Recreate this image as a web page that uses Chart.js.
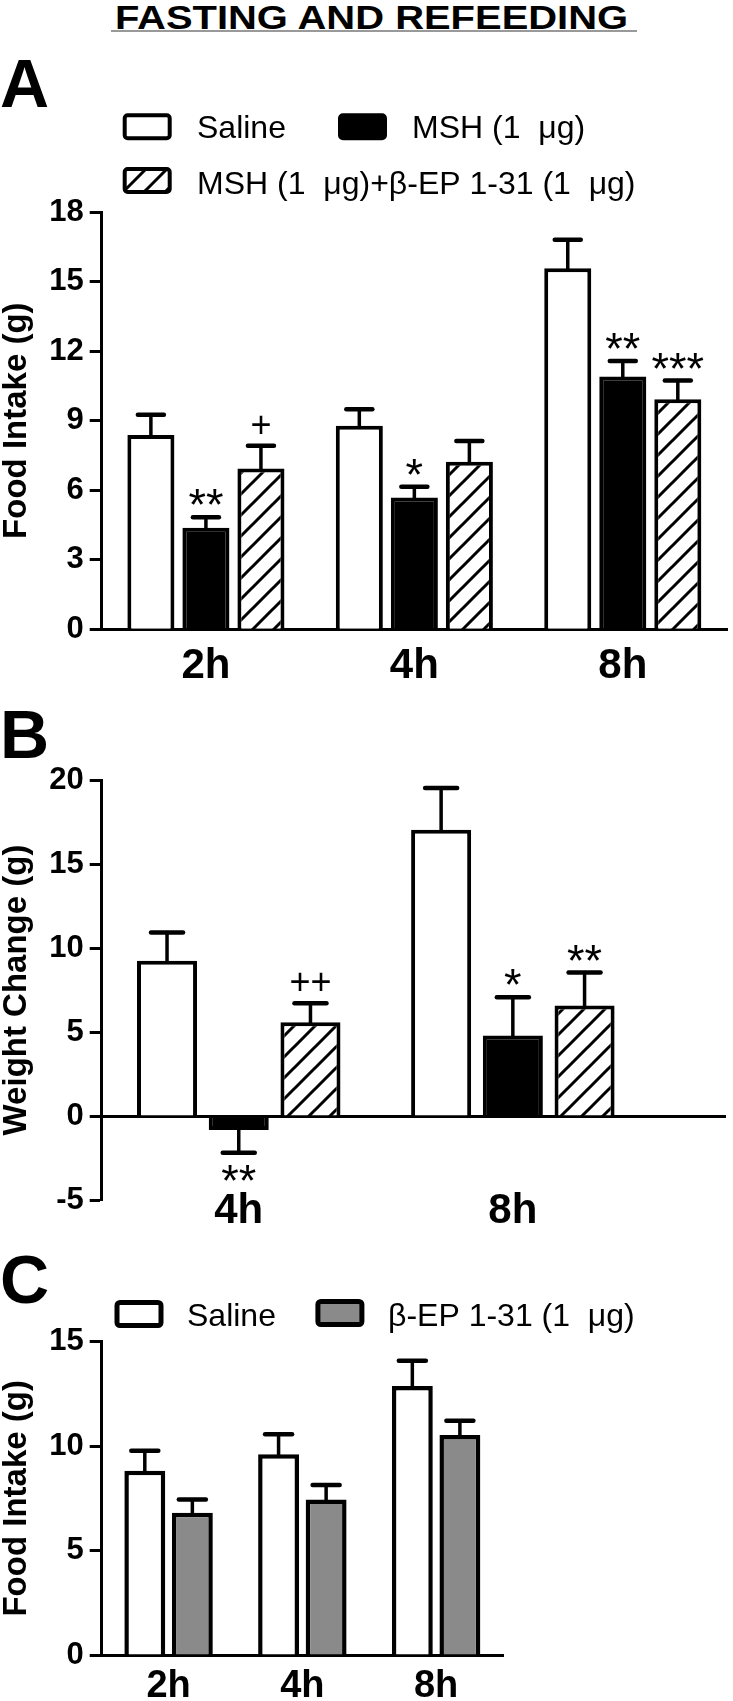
<!DOCTYPE html>
<html>
<head>
<meta charset="utf-8">
<script src="https://cdn.jsdelivr.net/npm/chart.js@4.4.1/dist/chart.umd.min.js"></script>
<style>
  body { margin: 0; background: #fff; }
  #page { position: relative; width: 733px; height: 1701px; overflow: hidden; font-family: 'Liberation Sans', Arial, sans-serif; }
  canvas { position: absolute; left: 0; }
  .letter { position: absolute; left: 0; font-weight: bold; font-size: 68px; line-height: 68px; }
  #title { position: absolute; left: 0; top: 1px; width: 743px; text-align: center; font-weight: bold; font-size: 33px; line-height: 33px; transform: scaleX(1.21); transform-origin: 371.5px 0; }
  #rule { position: absolute; left: 111px; top: 30px; width: 526px; height: 1.5px; background: #999; }
</style>
</head>
<body>
<div id="page">
  <div id="title">FASTING AND REFEEDING</div>
  <div id="rule"></div>
  <canvas id="chartA" width="733" height="700" style="top:0px"></canvas>
  <canvas id="chartB" width="733" height="540" style="top:690px"></canvas>
  <canvas id="chartC" width="733" height="471" style="top:1230px"></canvas>
  <div class="letter" style="top:49px">A</div>
  <div class="letter" style="top:700px">B</div>
  <div class="letter" style="top:1245px">C</div>
</div>
<script>
// panel A: food intake
const catsA = ['2h', '4h', '8h'];
const salineA = [8.38, 8.78, 15.57];
const salineAErr = [0.87, 0.71, 1.23];
const mshA = [4.38, 5.69, 10.9];
const mshAErr = [0.45, 0.46, 0.67];
const mshBepA = [6.94, 7.23, 9.92];
const mshBepAErr = [0.98, 0.89, 0.81];
const mshAMarks = ['**', '*', '**'];
const mshBepAMarks = ['+', '', '***'];
const ticksA = [0, 3, 6, 9, 12, 15, 18];

// panel B: weight change
const catsB = ['4h', '8h'];
const salineB = [9.24, 17.04];
const salineBErr = [1.68, 2.49];
const mshB = [-0.83, 4.79];
const mshBErr = [1.36, 2.28];
const mshBepB = [5.58, 6.57];
const mshBepBErr = [1.13, 1.97];
const mshBMarks = ['**', '*'];
const mshBepBMarks = ['++', '**'];
const ticksB = [-5, 0, 5, 10, 15, 20];

// panel C: beta-EP alone
const catsC = ['2h', '4h', '8h'];
const salineC = [8.82, 9.61, 12.88];
const salineCErr = [0.96, 0.96, 1.21];
const bepC = [6.81, 7.45, 10.53];
const bepCErr = [0.64, 0.69, 0.69];
const ticksC = [0, 5, 10, 15];

const labSaline = 'Saline';
const labMsh = 'MSH (1  \u03BCg)';
const labMshBep = 'MSH (1  \u03BCg)+\u03B2-EP 1-31 (1  \u03BCg)';
const labBep = '\u03B2-EP 1-31 (1  \u03BCg)';

Chart.defaults.font.family = "'Liberation Sans', Arial, Helvetica, sans-serif";
Chart.defaults.color = '#000';

function hatch() {
    const s = 21;
    const c = document.createElement('canvas');
    c.width = s; c.height = s;
    const g = c.getContext('2d');
    g.fillStyle = '#fff';
    g.fillRect(0, 0, s, s);
    g.strokeStyle = '#000';
    g.lineWidth = 3;
    g.beginPath();
    g.moveTo(-2, s + 2); g.lineTo(s + 2, -2);
    g.moveTo(-3, 3); g.lineTo(3, -3);
    g.moveTo(s - 3, s + 3); g.lineTo(s + 3, s - 3);
    g.stroke();
    return g.createPattern(c, 'repeat');
}
const hatchFill = hatch();

// error bars + significance marks
const errorBars = {
    id: 'errorBars',
    afterDatasetsDraw(chart, args, opts) {
        const ctx = chart.ctx;
        const yScale = chart.scales.y;
        ctx.save();
        ctx.strokeStyle = '#000';
        ctx.fillStyle = '#000';
        ctx.lineCap = 'round';
        chart.data.datasets.forEach((ds, di) => {
            const meta = chart.getDatasetMeta(di);
            meta.data.forEach((bar, i) => {
                const v = meta.controller.getParsed(i).y;
                const e = ds.errors[i];
                const sign = v < 0 ? -1 : 1;
                const ep = yScale.getPixelForValue(v + sign * e);
                ctx.lineWidth = opts.lineWidth;
                ctx.beginPath();
                ctx.moveTo(bar.x, bar.y);
                ctx.lineTo(bar.x, ep);
                ctx.stroke();
                ctx.lineWidth = opts.capWidth;
                ctx.beginPath();
                ctx.moveTo(bar.x - opts.cap / 2, ep);
                ctx.lineTo(bar.x + opts.cap / 2, ep);
                ctx.stroke();
                const mark = ds.marks ? ds.marks[i] : '';
                if (mark) {
                    const size = mark.includes('+') ? 36 : 45;
                    ctx.font = size + "px 'Liberation Sans', Arial, sans-serif";
                    ctx.textAlign = 'center';
                    ctx.textBaseline = 'alphabetic';
                    const m = ctx.measureText(mark);
                    const by = sign > 0 ? ep - 12 - m.actualBoundingBoxDescent : ep + 12 + m.actualBoundingBoxAscent;
                    ctx.fillText(mark, bar.x, by);
                }
            });
        });
        ctx.restore();
    }
};

const boxLegend = {
    id: 'boxLegend',
    afterDraw(chart, args, opts) {
        if (!opts.items) return;
        const ctx = chart.ctx;
        ctx.save();
        ctx.font = opts.font;
        ctx.textAlign = 'left';
        ctx.textBaseline = 'alphabetic';
        const lw = opts.lineWidth;
        opts.items.forEach(it => {
            const ds = chart.data.datasets[it.ds];
            ctx.beginPath();
            ctx.roundRect(it.x + lw / 2, it.y + lw / 2, opts.w - lw, opts.h - lw, 3);
            ctx.fillStyle = ds.backgroundColor;
            ctx.fill();
            ctx.lineWidth = lw;
            ctx.strokeStyle = '#000';
            ctx.stroke();
            ctx.fillStyle = '#000';
            ctx.fillText(ds.label, it.tx, it.ty);
        });
        ctx.restore();
    }
};

const tickFont = { size: 31, weight: 'bold' };
const titleFont = { size: 33, weight: 'bold', lineHeight: 1.0 };
const catFont = { size: 42, weight: 'bold' };

function yAxis(min, max, title, vals) {
    return {
        min: min, max: max,
        afterFit: s => { s.width = 101.7; },
        afterBuildTicks: s => { s.ticks = vals.map(v => ({ value: v })); },
        ticks: { font: tickFont, color: '#000', padding: 6 },
        grid: { drawOnChartArea: false, drawTicks: true, tickLength: 12, tickWidth: 3, tickColor: '#000' },
        border: { display: true, color: '#000', width: 3 },
        title: { display: true, text: title, font: titleFont, color: '#000', padding: { top: 0, bottom: 0 } }
    };
}

function bars(label, values, errors, marks, fill, bw) {
    return {
        label: label,
        data: values,
        errors: errors,
        marks: marks,
        backgroundColor: fill,
        borderColor: '#000',
        borderWidth: bw
    };
}

// panel A
new Chart(document.getElementById('chartA'), {
    type: 'bar',
    data: {
        labels: catsA,
        datasets: [
            bars(labSaline, salineA, salineAErr, null, '#fff', 4),
            bars(labMsh, mshA, mshAErr, mshAMarks, '#000', 4),
            bars(labMshBep, mshBepA, mshBepAErr, mshBepAMarks, hatchFill, 4)
        ]
    },
    options: {
        responsive: false,
        animation: false,
        categoryPercentage: 0.792,
        barPercentage: 0.855,
        layout: { padding: { top: 212, left: 0, right: 6, bottom: 0 } },
        scales: {
            x: {
                afterFit: s => { s.height = 70.7; },
                ticks: { font: catFont, color: '#000', padding: 12, maxRotation: 0 },
                grid: { display: false, drawTicks: false },
                border: { display: true, color: '#000', width: 3 }
            },
            y: yAxis(0, 18, 'Food Intake (g)', ticksA)
        },
        plugins: {
            legend: { display: false },
            tooltip: { enabled: false },
            errorBars: { lineWidth: 3.5, capWidth: 4.5, cap: 26 },
            boxLegend: {
                font: "32px 'Liberation Sans', Arial, sans-serif", w: 49, h: 27, lineWidth: 4,
                items: [
                    { ds: 0, x: 122.7, y: 113.3, tx: 197, ty: 138.3 },
                    { ds: 1, x: 338, y: 113.3, tx: 412, ty: 138.3 },
                    { ds: 2, x: 122.7, y: 167, tx: 197, ty: 194 }
                ]
            }
        }
    },
    plugins: [errorBars, boxLegend]
});

// panel B: linear x so the zero line runs past the last group
new Chart(document.getElementById('chartB'), {
    type: 'bar',
    data: {
        datasets: [
            bars(labSaline, salineB.map((v, i) => ({ x: i + 0.5, y: v })), salineBErr, null, '#fff', 4),
            bars(labMsh, mshB.map((v, i) => ({ x: i + 0.5, y: v })), mshBErr, mshBMarks, '#000', 4),
            bars(labMshBep, mshBepB.map((v, i) => ({ x: i + 0.5, y: v })), mshBepBErr, mshBepBMarks, hatchFill, 4)
        ]
    },
    options: {
        responsive: false,
        animation: false,
        categoryPercentage: 0.785,
        barPercentage: 0.837,
        layout: { padding: { top: 90, left: 0, right: 8, bottom: 30 } },
        scales: {
            x: {
                type: 'linear',
                min: 0, max: 2.274,
                bounds: 'data',
                offset: false,
                position: { y: 0 },
                afterBuildTicks: s => { s.ticks = catsB.map((c, i) => ({ value: i + 0.5 })); },
                ticks: { font: catFont, color: '#000', padding: 70, maxRotation: 0, autoSkip: false, callback: (v, i) => catsB[i] },
                grid: { display: false, drawTicks: false, offset: false },
                border: { display: true, color: '#000', width: 3 }
            },
            y: yAxis(-5, 20, 'Weight Change (g)', ticksB)
        },
        plugins: {
            legend: { display: false },
            tooltip: { enabled: false },
            errorBars: { lineWidth: 3.5, capWidth: 4.5, cap: 32 }
        }
    },
    plugins: [errorBars]
});

// panel C
new Chart(document.getElementById('chartC'), {
    type: 'bar',
    data: {
        labels: catsC,
        datasets: [
            bars(labSaline, salineC, salineCErr, null, '#fff', 4.5),
            bars(labBep, bepC, bepCErr, null, '#8a8a8a', 4.5)
        ]
    },
    options: {
        responsive: false,
        animation: false,
        categoryPercentage: 0.711,
        barPercentage: 0.86,
        layout: { padding: { top: 111.7, left: 0, right: 230, bottom: 0 } },
        scales: {
            x: {
                afterFit: s => { s.height = 46; },
                ticks: { font: { size: 38, weight: 'bold' }, color: '#000', padding: 9, maxRotation: 0 },
                grid: { display: false, drawTicks: false },
                border: { display: true, color: '#000', width: 3 }
            },
            y: yAxis(0, 15, 'Food Intake (g)', ticksC)
        },
        plugins: {
            legend: { display: false },
            tooltip: { enabled: false },
            errorBars: { lineWidth: 3.5, capWidth: 4.5, cap: 27 },
            boxLegend: {
                font: "32px 'Liberation Sans', Arial, sans-serif", w: 49, h: 28, lineWidth: 5,
                items: [
                    { ds: 0, x: 114.5, y: 70, tx: 187, ty: 96 },
                    { ds: 1, x: 315.4, y: 69, tx: 388, ty: 96 }
                ]
            }
        }
    },
    plugins: [errorBars, boxLegend]
});
</script>
</body>
</html>
